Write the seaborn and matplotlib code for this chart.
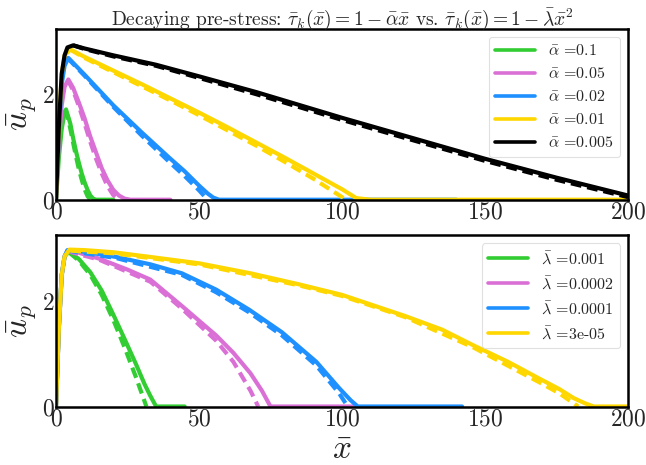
import numpy as np
import pandas as pd
import matplotlib
matplotlib.use("Agg")
import matplotlib.pyplot as plt
import seaborn as sns

# ---------------- data ----------------
alpha_labels = ["0.1", "0.05", "0.02", "0.01", "0.005"]
alpha_colors = ["limegreen", "orchid", "dodgerblue", "gold", "black"]

# simulation (solid)
a_x_green = [0, 1, 2, 3, 3.5, 5, 6, 7, 8, 9, 10, 11, 12, 13, 14, 20]
a_y_green = [0, 0.8, 1.35, 1.65, 1.72, 1.45, 1.17, 0.92, 0.7, 0.5, 0.33, 0.19, 0.08, 0.02, 0, 0]
a_x_pink = [0, 1, 2, 3, 4.3, 6, 8, 10, 12, 14, 16, 18, 20, 22, 24, 26, 40]
a_y_pink = [0, 1.1, 1.8, 2.15, 2.29, 2.13, 1.85, 1.55, 1.2, 0.9, 0.6, 0.37, 0.19, 0.08, 0.02, 0, 0]
a_x_blue = [0, 1, 2, 3, 4.3, 10, 20, 30, 40, 45, 50, 53, 55, 57, 140]
a_y_blue = [0, 1.3, 2.2, 2.55, 2.70, 2.38, 1.8, 1.28, 0.78, 0.54, 0.27, 0.12, 0.04, 0, 0]
a_x_yellow = [0, 1, 2, 3, 5, 10, 20, 30, 40, 50, 60, 70, 80, 90, 100, 105, 110, 200]
a_y_yellow = [0, 1.4, 2.4, 2.75, 2.86, 2.72, 2.46, 2.2, 1.93, 1.66, 1.38, 1.09, 0.8, 0.5, 0.2, 0.03, 0, 0]
a_x_black = [0, 1, 2, 3, 4, 6, 10, 20, 35, 50, 70, 100, 125, 150, 175, 200]
a_y_black = [0, 1.4, 2.4, 2.75, 2.9, 2.94, 2.88, 2.75, 2.57, 2.35, 2.05, 1.56, 1.17, 0.78, 0.42, 0.08]

# theory (dashed)
at_x_green = [3, 4, 5, 6, 7, 8, 9, 10, 11, 12]
at_y_green = [1.72, 1.6, 1.35, 1.08, 0.82, 0.58, 0.38, 0.2, 0.07, 0]
at_x_pink = [4, 6, 8, 10, 12, 14, 16, 18, 20, 22]
at_y_pink = [2.29, 2.08, 1.78, 1.45, 1.1, 0.78, 0.5, 0.26, 0.09, 0]
at_x_blue = [4, 10, 20, 30, 40, 45, 50, 53]
at_y_blue = [2.7, 2.36, 1.77, 1.22, 0.7, 0.45, 0.18, 0]
at_x_yellow = [5, 10, 20, 30, 40, 50, 60, 70, 80, 90, 100, 101]
at_y_yellow = [2.86, 2.7, 2.43, 2.16, 1.89, 1.61, 1.32, 1.03, 0.72, 0.4, 0.05, 0]
at_x_black = [6, 10, 20, 35, 50, 70, 100, 125, 150, 175, 200]
at_y_black = [2.94, 2.87, 2.73, 2.55, 2.32, 2.01, 1.52, 1.13, 0.74, 0.38, 0.05]

lam_labels = ["0.001", "0.0002", "0.0001", "3e-05"]
lam_colors = ["limegreen", "orchid", "dodgerblue", "gold"]

l_x_green = [0, 1, 2, 3, 4.5, 8, 12, 16, 20, 24, 28, 31, 33, 35, 45]
l_y_green = [0, 1.5, 2.5, 2.85, 2.94, 2.8, 2.55, 2.2, 1.75, 1.28, 0.8, 0.42, 0.2, 0, 0]
l_x_pink = [0, 1, 2, 3, 4, 8, 15, 25, 33, 44, 56, 62, 68, 72, 75, 105]
l_y_pink = [0, 1.5, 2.5, 2.85, 2.96, 2.92, 2.81, 2.6, 2.41, 1.91, 1.35, 1.02, 0.63, 0.3, 0, 0]
l_x_blue = [0, 1, 2, 3, 4, 10, 21, 33, 44, 56, 67.5, 79, 91, 99, 103, 105.5, 142]
l_y_blue = [0, 1.5, 2.5, 2.85, 2.97, 2.94, 2.84, 2.7, 2.53, 2.22, 1.84, 1.41, 0.85, 0.35, 0.12, 0, 0]
l_x_yellow = [0, 1, 2, 3, 4.7, 10, 20, 33, 50, 68, 85, 100, 122, 135, 146, 158, 169, 176, 181, 185, 188, 200]
l_y_yellow = [0, 1.5, 2.5, 2.85, 2.98, 2.97, 2.93, 2.84, 2.72, 2.53, 2.32, 2.12, 1.72, 1.46, 1.16, 0.85, 0.53, 0.33, 0.16, 0.06, 0, 0]

lt_x_green = [4.5, 8, 12, 16, 20, 24, 28, 31.6]
lt_y_green = [2.93, 2.77, 2.5, 2.12, 1.65, 1.12, 0.55, 0]
lt_x_pink = [4, 15, 33, 44, 56, 62, 68, 70.7]
lt_y_pink = [2.95, 2.79, 2.37, 1.86, 1.25, 0.85, 0.3, 0]
lt_x_blue = [4, 21, 44, 56, 67.5, 79, 91, 99, 102]
lt_y_blue = [2.96, 2.82, 2.5, 2.17, 1.79, 1.35, 0.78, 0.25, 0]
lt_x_yellow = [5, 20, 50, 85, 100, 122, 146, 169, 176, 182.6]
lt_y_yellow = [2.96, 2.91, 2.7, 2.3, 2.1, 1.7, 1.12, 0.46, 0.25, 0]

x_ticks = [0, 50, 100, 150, 200]
y_ticks = [0, 2]

# ---------------- style ----------------
sns.set_style("white")
plt.rcParams["font.family"] = ["cmr10", "DejaVu Serif"]
plt.rcParams["mathtext.fontset"] = "cm"
plt.rcParams["axes.formatter.use_mathtext"] = True
plt.rcParams["axes.unicode_minus"] = False

fig = plt.figure(figsize=(6.46, 4.65), dpi=100)
ax1 = fig.add_axes([0.0867, 0.5705, 0.8854, 0.367])
ax2 = fig.add_axes([0.0867, 0.1258, 0.8854, 0.368])

LW = 3.0
DASH = (0, (2.6, 1.4))

sim_top = [(a_x_green, a_y_green), (a_x_pink, a_y_pink), (a_x_blue, a_y_blue),
           (a_x_yellow, a_y_yellow), (a_x_black, a_y_black)]
th_top = [(at_x_green, at_y_green), (at_x_pink, at_y_pink), (at_x_blue, at_y_blue),
          (at_x_yellow, at_y_yellow), (at_x_black, at_y_black)]
for (xs, ys), (xt, yt), lab, col in zip(sim_top, th_top, alpha_labels, alpha_colors):
    sns.lineplot(x=xs, y=ys, ax=ax1, color=col, lw=LW,
                 label=r"$\bar{\alpha}$ =" + lab, estimator=None)
    sns.lineplot(x=xt, y=yt, ax=ax1, color=col, lw=LW, linestyle=DASH,
                 legend=False, estimator=None)

sim_bot = [(l_x_green, l_y_green), (l_x_pink, l_y_pink), (l_x_blue, l_y_blue),
           (l_x_yellow, l_y_yellow)]
th_bot = [(lt_x_green, lt_y_green), (lt_x_pink, lt_y_pink), (lt_x_blue, lt_y_blue),
          (lt_x_yellow, lt_y_yellow)]
for (xs, ys), (xt, yt), lab, col in zip(sim_bot, th_bot, lam_labels, lam_colors):
    sns.lineplot(x=xs, y=ys, ax=ax2, color=col, lw=LW,
                 label=r"$\bar{\lambda}$ =" + lab, estimator=None)
    sns.lineplot(x=xt, y=yt, ax=ax2, color=col, lw=LW, linestyle=DASH,
                 legend=False, estimator=None)

for ax in (ax1, ax2):
    ax.set_xlim(0, 200)
    ax.set_ylim(0, 3.25)
    ax.set_xticks(x_ticks)
    ax.set_yticks(y_ticks)
    ax.tick_params(axis="both", direction="in", length=4, width=0.8,
                   color="0.7", labelsize=17, pad=1)
    for s in ax.spines.values():
        s.set_color("black")
        s.set_linewidth(1.8)
    ax.set_ylabel(r"$\bar{u}_p$", fontsize=24, labelpad=2)
    ax.set_xlabel("")
    leg = ax.legend(loc="upper right", fontsize=11.5, handlelength=2.5,
                    frameon=True, fancybox=True, borderaxespad=0.5,
                    labelspacing=0.5)
    leg.get_frame().set_edgecolor("0.85")
    leg.get_frame().set_linewidth(0.8)
    for line in leg.get_lines():
        line.set_linewidth(2.6)

ax1.set_title(r"Decaying pre-stress: $\bar{\tau}_k(\bar{x}) = 1 - \bar{\alpha}\bar{x}$ vs. "
              r"$\bar{\tau}_k(\bar{x}) = 1 - \bar{\lambda}\bar{x}^2$", fontsize=14, pad=3)
ax2.set_xlabel(r"$\bar{x}$", fontsize=24, labelpad=4)

fig.savefig("out.png", dpi=100)
